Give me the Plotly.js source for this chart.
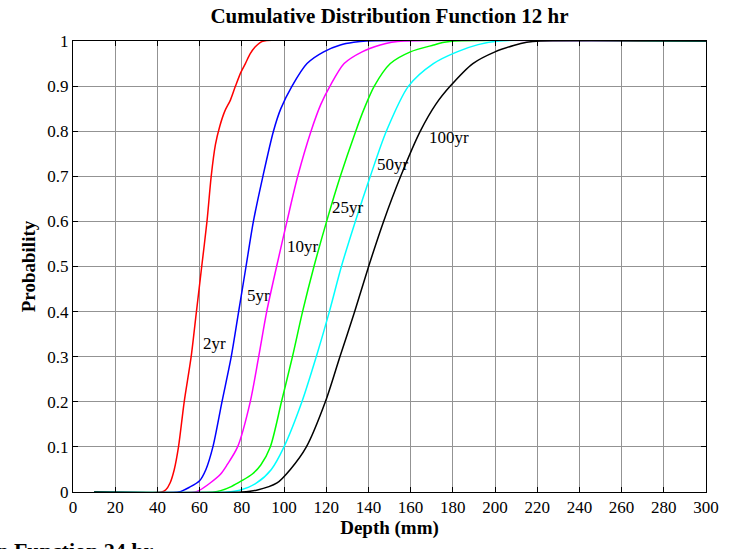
<!DOCTYPE html>
<html>
<head>
<meta charset="utf-8">
<script src="https://cdn.plot.ly/plotly-3.0.1.min.js"></script>
<style>html,body{margin:0;padding:0;background:#fff;}#chart{width:734px;height:549px;}</style>
</head>
<body>
<div id="chart"></div>
<script>
// Series data (depth in mm, cumulative probability)
const seriesNames = ["2yr", "5yr", "10yr", "25yr", "50yr", "100yr"];
const seriesColors = ["#ff0000", "#0000ff", "#ff00ff", "#00ff00", "#00ffff", "#000000"];

const x2yr = [10, 42, 44, 46, 48, 50, 52.7, 56, 58.5, 61, 63.5, 65.5, 67.5, 69.5, 72, 74.6, 77, 79.5, 81.7, 84, 86.4, 88.5, 90.5, 300];
const y2yr = [0, 0, 0.005, 0.02, 0.05, 0.1, 0.2, 0.3, 0.4, 0.5, 0.6, 0.7, 0.77, 0.81, 0.845, 0.869, 0.9, 0.93, 0.95, 0.972, 0.987, 0.996, 1, 1];

const x5yr = [10, 50, 52, 55, 60, 63, 66.3, 70.6, 75, 78.5, 82, 85.5, 90, 95, 98.5, 103.8, 110.9, 118.8, 126.7, 133, 139, 300];
const y5yr = [0, 0, 0.003, 0.01, 0.025, 0.05, 0.1, 0.2, 0.3, 0.4, 0.5, 0.6, 0.7, 0.8, 0.85, 0.9, 0.95, 0.976, 0.991, 0.997, 1, 1];

const x10yr = [10, 58, 60, 65, 70, 73, 78, 84, 88, 91.8, 96.5, 101.4, 106.5, 112.8, 117.5, 121.8, 128.5, 137, 145.6, 151, 156.7, 300];
const y10yr = [0, 0, 0.004, 0.02, 0.04, 0.06, 0.1, 0.2, 0.3, 0.4, 0.5, 0.6, 0.7, 0.8, 0.86, 0.9, 0.95, 0.976, 0.991, 0.997, 1, 1];

const x25yr = [10, 67, 70, 75, 80, 85, 89, 93.5, 98.8, 104, 108.8, 114.2, 120.2, 126.7, 134, 138, 142.8, 150.4, 159.9, 170.9, 176, 181, 300];
const y25yr = [0, 0, 0.003, 0.012, 0.025, 0.04, 0.06, 0.1, 0.2, 0.3, 0.4, 0.5, 0.6, 0.7, 0.8, 0.85, 0.9, 0.95, 0.976, 0.991, 0.997, 1, 1];

const x50yr = [10, 73, 79, 87, 94, 100, 108.5, 115.3, 121.5, 127.2, 133.8, 140.9, 148.5, 159, 170.8, 182, 192, 202, 300];
const y50yr = [0, 0, 0.004, 0.02, 0.05, 0.1, 0.2, 0.3, 0.4, 0.5, 0.6, 0.7, 0.8, 0.9, 0.95, 0.976, 0.992, 1, 1];

const x100yr = [10, 80, 87, 96.7, 103, 110.6, 119.6, 126.5, 133.5, 140.1, 147.2, 155.3, 164.6, 172, 178.8, 189.5, 200, 208.8, 215, 221.5, 300];
const y100yr = [0, 0, 0.004, 0.02, 0.05, 0.1, 0.2, 0.3, 0.4, 0.5, 0.6, 0.7, 0.8, 0.86, 0.9, 0.95, 0.976, 0.99, 0.997, 1, 1];

const seriesX = [x2yr, x5yr, x10yr, x25yr, x50yr, x100yr];
const seriesY = [y2yr, y5yr, y10yr, y25yr, y50yr, y100yr];

// Curve label positions (data coordinates)
const labelX = [67, 87.8, 109.2, 130.5, 151.8, 178.4];
const labelY = [0.33, 0.435, 0.545, 0.63, 0.727, 0.785];

const titleText = "Cumulative Distribution Function 12 hr";
const nextTitleText = "Cumulative Distribution Function 24 hr";
const xTitle = "Depth (mm)";
const yTitle = "Probability";

const FONT = "Liberation Serif, Times New Roman, serif";

const traces = seriesNames.map((n, i) => ({
  type: "scatter",
  mode: "lines",
  name: n,
  x: seriesX[i],
  y: seriesY[i],
  line: {color: seriesColors[i], width: 1.5, shape: "spline", smoothing: 0.8},
  hoverinfo: "skip"
}));

const annotations = seriesNames.map((n, i) => ({
  x: labelX[i], y: labelY[i], xref: "x", yref: "y",
  text: n, showarrow: false,
  font: {family: FONT, size: 17, color: "#000"},
  xanchor: "center", yanchor: "middle"
}));
annotations.push({
  x: (155 - 73) / 633, y: -0.097, xref: "paper", yref: "paper",
  text: "<b>" + nextTitleText + "</b>", showarrow: false,
  font: {family: FONT, size: 22, color: "#000"},
  xanchor: "right", yanchor: "top"
});

const axisCommon = {
  showline: true, linecolor: "#000", linewidth: 1, mirror: "ticks",
  ticks: "inside", ticklen: 5, tickcolor: "#000", tickwidth: 1,
  showgrid: true, gridcolor: "#939393", gridwidth: 1,
  zeroline: false,
  tickfont: {family: FONT, size: 17, color: "#000"}
};

const layout = {
  width: 734, height: 549,
  margin: {l: 73, r: 28, t: 41, b: 57},
  paper_bgcolor: "#fff", plot_bgcolor: "#fff",
  showlegend: false,
  font: {family: FONT, color: "#000"},
  title: {text: "<b>" + titleText + "</b>", font: {family: FONT, size: 21, color: "#000"},
          x: 0.5, xref: "paper", y: 0.971, yref: "container", yanchor: "middle"},
  xaxis: Object.assign({}, axisCommon, {
    range: [0, 300], dtick: 20, tick0: 0,
    title: {text: "<b>" + xTitle + "</b>", font: {family: FONT, size: 19, color: "#000"}, standoff: 4}
  }),
  yaxis: Object.assign({}, axisCommon, {
    range: [0, 1], dtick: 0.1, tick0: 0,
    title: {text: "<b>" + yTitle + "</b>", font: {family: FONT, size: 19, color: "#000"}, standoff: 6}
  }),
  annotations: annotations
};

Plotly.newPlot("chart", traces, layout, {staticPlot: true, displayModeBar: false});
</script>
</body>
</html>
